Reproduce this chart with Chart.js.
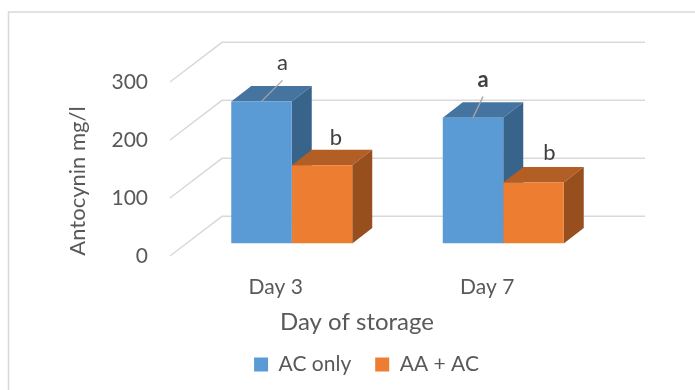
<!DOCTYPE html>
<html>
<head>
<meta charset="utf-8">
<title>Antocynin</title>
<script src="https://cdn.jsdelivr.net/npm/chart.js@4"></script>
<style>
  html, body { margin: 0; padding: 0; background: #fff; overflow: hidden; }
  canvas { display: block; }
</style>
</head>
<body>
<canvas id="chart" width="695" height="390"></canvas>
<script>
// ======== DATA ========
const categories = ["Day 3", "Day 7"];
const acOnly = [245, 217];
const aaAc = [135, 105];
const acOnlyLetters = ["a", "a"];
const aaAcLetters = ["b", "b"];
const yTicks = [0, 100, 200, 300];

// ======== 3D LOOK ========
const FONT = "Lato, Carlito, sans-serif";
const TEXT = "#595959";
const GRID = "#d9d9d9";
const barShift = { x: 16, y: -12.5 };  // bars stand part way into the floor
const barDepth = { x: 20, y: -15.5 };
const wallDepth = { x: 52, y: -39.7 };
const faces = [
    { top: "#44749f", side: "#38638a" },
    { top: "#b25e24", side: "#964f1d" },
];

function poly(ctx, pts, color) {
    ctx.fillStyle = color;
    ctx.beginPath();
    pts.forEach((p, i) => (i ? ctx.lineTo(p[0], p[1]) : ctx.moveTo(p[0], p[1])));
    ctx.closePath();
    ctx.fill();
}

const box3d = {
    id: "box3d",
    afterLayout(chart) {
        // legend sits right of the canvas centre in the original
        chart.legend.left += 40;
        chart.legend.right += 40;
    },
    beforeDraw(chart) {
        const ctx = chart.ctx;
        ctx.save();
        ctx.strokeStyle = GRID;
        ctx.lineWidth = 1.5;
        ctx.beginPath();
        ctx.moveTo(695, 12);
        ctx.lineTo(8.5, 12);
        ctx.lineTo(8.5, 390);
        ctx.stroke();
        ctx.restore();
    },
    beforeDatasetsDraw(chart) {
        const ctx = chart.ctx;
        const { left, right } = chart.chartArea;
        const y = chart.scales.y;

        // walls
        ctx.save();
        ctx.strokeStyle = GRID;
        ctx.lineWidth = 1.5;
        yTicks.forEach((t) => {
            const py = y.getPixelForValue(t);
            ctx.beginPath();
            ctx.moveTo(left, py);
            ctx.lineTo(left + wallDepth.x, py + wallDepth.y);
            ctx.lineTo(right + wallDepth.x, py + wallDepth.y);
            ctx.stroke();
        });
        ctx.restore();

        // everything in the datasets gets pushed back onto the floor
        ctx.save();
        ctx.translate(barShift.x, barShift.y);
        const dx = barDepth.x, dy = barDepth.y;
        categories.forEach((c, i) => {
            [0, 1].forEach((d) => {
                const b = chart.getDatasetMeta(d).data[i].getProps(["x", "y", "base", "width"], true);
                const x0 = b.x - b.width / 2, x1 = b.x + b.width / 2;
                poly(ctx, [[x0, b.y], [x1, b.y], [x1 + dx, b.y + dy], [x0 + dx, b.y + dy]], faces[d].top);
                poly(ctx, [[x1, b.y], [x1 + dx, b.y + dy], [x1 + dx, b.base + dy], [x1, b.base]], faces[d].side);
            });
        });
    },
    afterDatasetsDraw(chart) {
        const ctx = chart.ctx;
        ctx.restore();

        // letters above the bars
        ctx.save();
        ctx.textAlign = "center";
        ctx.textBaseline = "middle";
        ctx.fillStyle = "#404040";
        const pa = chart.getDatasetMeta(0).data, pb = chart.getDatasetMeta(1).data;
        const shift = (el) => [el.x + barShift.x, el.y + barShift.y];

        categories.forEach((c, i) => {
            const [ax, ay] = shift(pa[i]);
            const [bx, by] = shift(pb[i]);
            const lean = i === 0 ? [21, -21] : [10, -21];
            const nudge = i === 0 ? [14, -27] : [16, -30];
            ctx.strokeStyle = "#a6a6a6";
            ctx.lineWidth = 1.3;
            ctx.beginPath();
            ctx.moveTo(ax, ay);
            ctx.lineTo(ax + lean[0], ay + lean[1]);
            ctx.stroke();
            ctx.font = (i === 1 ? "bold " : "") + "22px " + FONT;
            ctx.fillText(acOnlyLetters[i], ax + lean[0], ay + lean[1] - 17);
            ctx.font = "22px " + FONT;
            ctx.fillText(aaAcLetters[i], bx + nudge[0], by + nudge[1]);
        });

        // axis titles, both off centre from the plot like the original
        ctx.fillStyle = TEXT;
        ctx.font = "24px " + FONT;
        ctx.fillText("Day of storage", 357, 322);
        ctx.translate(78, 181);
        ctx.rotate(-Math.PI / 2);
        ctx.font = "22px " + FONT;
        ctx.fillText("Antocynin mg/l", 0, 0);
        ctx.restore();
    },
};

// ======== CHART ========
new Chart(document.getElementById("chart"), {
    type: "bar",
    data: {
        labels: categories,
        datasets: [
            { label: "AC only", data: acOnly, backgroundColor: "#5b9bd5" },
            { label: "AA + AC", data: aaAc, backgroundColor: "#ed7d31" },
        ],
    },
    options: {
        responsive: false,
        animation: false,
        layout: { padding: { left: 60, right: 102, top: 82, bottom: 5 } },
        datasets: { bar: { categoryPercentage: 0.572, barPercentage: 1 } },
        plugins: {
            tooltip: { enabled: false },
            legend: {
                position: "bottom",
                labels: {
                    color: TEXT,
                    font: { family: FONT, size: 21 },
                    boxWidth: 14,
                    boxHeight: 14,
                    padding: 24,
                },
            },
        },
        scales: {
            x: {
                grid: { display: false },
                border: { display: false },
                ticks: { color: TEXT, font: { family: FONT, size: 21 }, padding: 11 },
                afterFit: (s) => { s.height = 74; },
            },
            y: {
                min: 0,
                max: 300,
                grid: { display: false },
                border: { display: false },
                afterBuildTicks: (s) => { s.ticks = yTicks.map((v) => ({ value: v })); },
                ticks: { color: TEXT, font: { family: FONT, size: 21 }, padding: 14 },
                afterFit: (s) => { s.width = 110; },
            },
        },
    },
    plugins: [box3d],
});
</script>
</body>
</html>
